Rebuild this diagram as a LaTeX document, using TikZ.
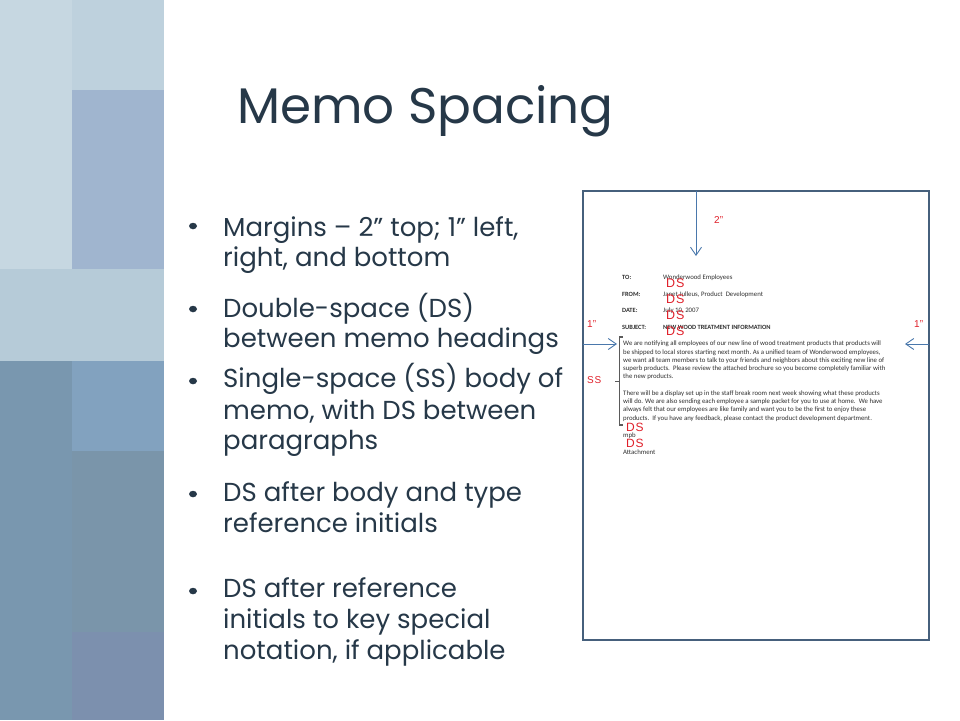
\documentclass[tikz,border=0pt]{standalone}
\usepackage{fontspec}
\setmainfont{Poppins}
\newfontfamily\memofont{Carlito}
\newfontfamily\redfont{Liberation Sans}
\usetikzlibrary{arrows.meta,calc,shapes.geometric}
\definecolor{txt}{HTML}{263848}
\definecolor{pA}{HTML}{C6D7E1}
\definecolor{pB}{HTML}{BED1DD}
\definecolor{pC}{HTML}{A0B5CF}
\definecolor{pD}{HTML}{B6CBD8}
\definecolor{pE}{HTML}{7997AF}
\definecolor{pF}{HTML}{82A2BF}
\definecolor{pG}{HTML}{7A95AA}
\definecolor{pH}{HTML}{7C90AE}
\definecolor{frame}{HTML}{46607C}
\definecolor{arr}{HTML}{4A78AC}
\definecolor{redl}{HTML}{E0202A}
\definecolor{memotxt}{HTML}{303030}
\tikzset{
  bul/.style={anchor=base west, inner sep=0pt, font=\fontsize{26}{30}\selectfont, text=txt},
  bdot/.style={fill=txt, ellipse, inner sep=0pt, minimum width=8pt, minimum height=6.5pt},
  memo/.style={anchor=base west, inner sep=0pt, font=\memofont\fontsize{6.8}{8}\selectfont, text=memotxt},
  memob/.style={memo, font=\memofont\bfseries\fontsize{6.4}{8}\selectfont},
  redlbl/.style={anchor=base west, inner sep=0pt, text=redl},
  dsbig/.style={redlbl, font=\redfont\fontsize{12.5}{13}\selectfont},
  dssmall/.style={redlbl, font=\redfont\fontsize{12}{13}\selectfont},
  inch/.style={redlbl, font=\redfont\fontsize{10}{11}\selectfont},
  marrow/.style={draw=arr, line width=0.9pt, -{Straight Barb[length=8pt,width=11pt,line width=0.9pt]}},
}
\begin{document}
\begin{tikzpicture}[x=1pt,y=-1pt]
\path[use as bounding box, fill=white] (0,0) rectangle (960,720);
% left decorative panel
\fill[pA] (0,0) rectangle (72,269);
\fill[pB] (72,0) rectangle (164,90);
\fill[pC] (72,90) rectangle (164,269);
\fill[pD] (0,269) rectangle (164,361);
\fill[pE] (0,361) rectangle (72,720);
\fill[pF] (72,361) rectangle (164,451);
\fill[pG] (72,451) rectangle (164,632);
\fill[pH] (72,632) rectangle (164,720);
% title
\node[anchor=base west, inner sep=0pt, font=\fontsize{50}{55}\selectfont, text=txt] (title) at (237,123) {Memo Spacing};
% bullets
\node[bdot] (d1) at (193,226) {};
\node[bul] (b1a) at (223,236) {Margins – 2” top; 1” left,};
\node[bul] (b1b) at (223,266) {right, and bottom};
\node[bdot] (d2) at (193,309) {};
\node[bul] (b2a) at (223,317) {Double-space (DS)};
\node[bul] (b2b) at (223,347) {between memo headings};
\node[bdot] (d3) at (193,381) {};
\node[bul] (b3a) at (223,387) {Single-space (SS) body of};
\node[bul] (b3b) at (223,419) {memo, with DS between};
\node[bul] (b3c) at (223,449) {paragraphs};
\node[bdot] (d4) at (193,494) {};
\node[bul] (b4a) at (223,501) {DS after body and type};
\node[bul] (b4b) at (223,532) {reference initials};
\node[bdot] (d5) at (193,591) {};
\node[bul] (b5a) at (223,597) {DS after reference};
\node[bul] (b5b) at (223,628) {initials to key special};
\node[bul] (b5c) at (223,659) {notation, if applicable};
% memo page
\draw[frame, line width=1.3pt] (583,191) rectangle (929,640);
\coordinate (ftop) at (696,191);
\coordinate (ttop) at (696,256);
\coordinate (fleft) at (583,344);
\coordinate (tleft) at (617,344);
\coordinate (fright) at (929,344);
\coordinate (tright) at (905,344);
\draw[marrow] (ftop) -- (ttop);
\draw[marrow] (fleft) -- (tleft);
\draw[marrow] (fright) -- (tright);
\node[inch] (two) at (714,223) {2”};
\node[inch] (oneL) at (587,327) {1”};
\node[inch] (oneR) at (914,327) {1”};
% headings
\node[memob] (hto) at (622,279) {TO:};
\node[memob] (hfrom) at (622,296) {FROM:};
\node[memob] (hdate) at (622,312) {DATE:};
\node[memob] (hsubj) at (622,329) {SUBJECT:};
\node[memo] (vto) at (663,279) {Wonderwood Employees};
\node[memo] (vfrom) at (663,296) {Janet Julleus, Product\ \ Development};
\node[memo] (vdate) at (663,312) {July 10, 2007};
\node[memob] (vsubj) at (663,329) {NEW WOOD TREATMENT INFORMATION};
\node[dsbig] (ds1) at (666,287.5) {D\kern0.8pt S};
\node[dsbig] (ds2) at (666,303.5) {D\kern0.8pt S};
\node[dsbig] (ds3) at (666,319.5) {D\kern0.8pt S};
\node[dsbig] (ds4) at (666,335.5) {D\kern0.8pt S};
% body
\node[memo] (l1) at (623,345) {We are notifying\ all employees\ of our new line of wood treatment products that products\ will};
\node[memo] (l2) at (623,354) {be shipped to local stores starting next month.\ As a unified team of Wonderwood\ employees,};
\node[memo] (l3) at (623,362) {we want all team members to talk to your friends and neighbors about this exciting new line of};
\node[memo] (l4) at (623,370) {superb products.\ \ Please review the attached brochure\ so you become\ completely familiar with};
\node[memo] (l5) at (623,378) {the new products.};
\node[memo] (l6) at (623,395) {There will be a display set up in the\ staff break room\ next week showing\ what these products};
\node[memo] (l7) at (623,403) {will do. We are also sending\ each employee\ a sample packet for you to use at home.\ \ We have};
\node[memo] (l8) at (623,411) {always felt that our employees\ are like family and want you to be the\ first to enjoy\ these};
\node[memo] (l9) at (623,420) {products.\ \ If you have any feedback,\ please contact the product\ development\ department.};
% bracket
\coordinate (bt) at (619.5,337);
\coordinate (bb) at (619.5,425);
\coordinate (bm) at (619.5,381);
\coordinate (btick) at (614.5,381);
\draw[memotxt!80, line width=1.2pt] ($(bt)+(3,0)$) -- (bt) -- (bb) -- ($(bb)+(3,0)$);
\draw[memotxt!80, line width=1pt] (bm) -- (btick);
\node[inch] (ss) at (587,383) {S\kern0.8pt S};
\node[dssmall] (ds5) at (626,431.5) {D\kern0.8pt S};
\node[memo] (mpb) at (623,437) {mpb};
\node[dssmall] (ds6) at (626,447.5) {D\kern0.8pt S};
\node[memo] (att) at (623,454) {Attachment};
\end{tikzpicture}
\end{document}
